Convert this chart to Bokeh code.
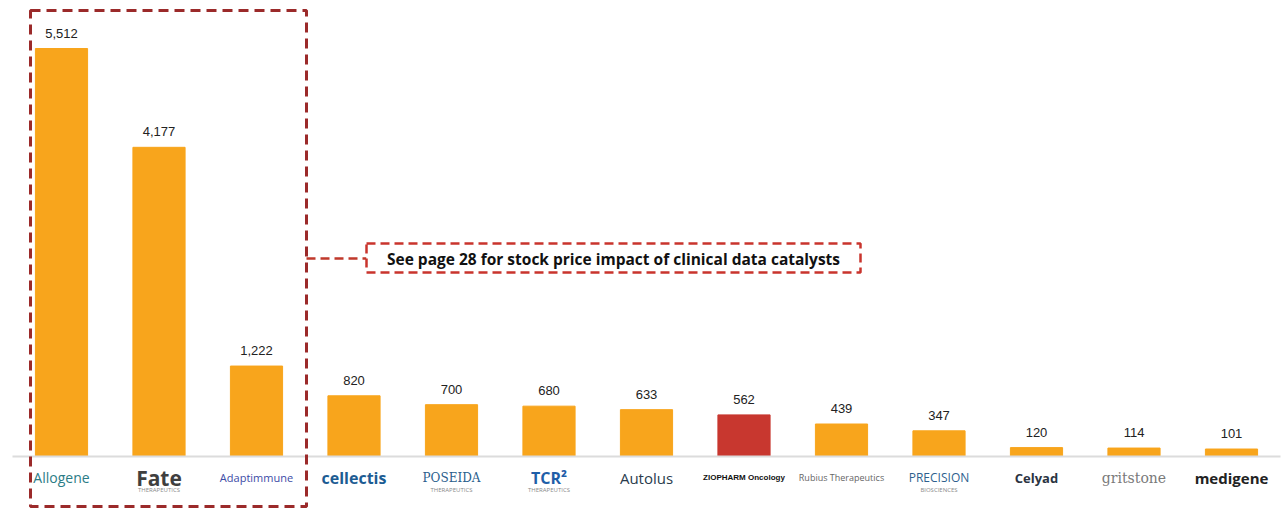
from bokeh.plotting import figure
from bokeh.models import ColumnDataSource, Span
from bokeh.core.properties import value
from bokeh.embed import file_html
from bokeh.resources import INLINE

companies = ["Allogene", "Fate", "Adaptimmune", "cellectis", "POSEIDA", "TCR²", "Autolus",
             "ZIOPHARM Oncology", "Rubius Therapeutics", "PRECISION", "Celyad", "gritstone", "medigene"]
subtitles = ["", "THERAPEUTICS", "", "", "THERAPEUTICS", "THERAPEUTICS", "",
             "", "", "BIOSCIENCES", "", "", ""]
values = [5512, 4177, 1222, 820, 700, 680, 633, 562, 439, 347, 120, 114, 101]
highlight = "ZIOPHARM Oncology"
callout_text = "See page 28 for stock price impact of clinical data catalysts"

# styles for the logo-like labels
logo_colors = ["#2B7C86", "#3F3F3F", "#3C4BA6", "#1C5C93", "#2A5E8C", "#1F5EA8", "#2A3B4C",
               "#111111", "#666666", "#2E5F8E", "#2B3442", "#7A7A7A", "#222222"]
logo_sizes = ["14px", "21px", "11px", "16px", "12px", "16px", "15px",
              "8px", "9px", "12px", "13px", "14px", "15px"]
logo_styles = ["normal", "bold", "normal", "bold", "normal", "bold", "normal",
               "bold", "normal", "normal", "bold", "normal", "bold"]
logo_fonts = ["Open Sans", "Open Sans", "Open Sans", "Open Sans", "DejaVu Serif", "Open Sans", "Open Sans",
              "Liberation Sans", "Open Sans", "Open Sans", "Open Sans", "DejaVu Serif", "Open Sans"]

x = list(range(len(values)))
colors = ["#C8372F" if c == highlight else "#F8A51C" for c in companies]
labels = [f"{v:,}" for v in values]

W, H = 1282, 509
px_per_x = 97.5
x0_px = 61.0
base_px = 456.0
units_per_px = 13.51

xs = -x0_px / px_per_x
xe = xs + W / px_per_x
ye = base_px * units_per_px
ys = -(H - base_px) * units_per_px

def X(px):
    return (px - x0_px) / px_per_x

def Y(py):
    return (base_px - py) * units_per_px

p = figure(width=W, height=H, x_range=(xs, xe), y_range=(ys, ye),
           output_backend="svg", toolbar_location=None,
           min_border=0, min_border_left=0, min_border_right=0,
           min_border_top=0, min_border_bottom=0)
p.axis.visible = False
p.grid.visible = False
p.outline_line_color = None
p.background_fill_color = "white"

src = ColumnDataSource(dict(x=x, top=values, color=colors, label=labels,
                            name=companies, sub=subtitles,
                            lc=logo_colors, ls=logo_sizes, lst=logo_styles, lf=logo_fonts))

p.vbar(x="x", top="top", bottom=0, width=0.535, color="color", source=src)

p.segment(x0=[X(12)], y0=[0], x1=[X(1280)], y1=[0], line_color="#DCDCDC", line_width=2)

p.text(x="x", y="top", text="label", source=src, text_align="center",
       text_baseline="bottom", y_offset=-11, text_font=value("Liberation Sans"),
       text_font_size="13px", text_color="#222222")

# logo-like company names
p.text(x="x", y=Y(477), text="name", source=src, text_align="center",
       text_baseline="middle", text_font="lf", text_font_size="ls",
       text_font_style="lst", text_color="lc")
p.text(x="x", y=Y(489), text="sub", source=src, text_align="center",
       text_baseline="middle", text_font=value("Open Sans"), text_font_size="6px",
       text_color="#8A8A8A")

# highlight box around first three bars
p.quad(left=X(30), right=X(306), top=Y(10), bottom=Y(506), fill_alpha=0,
       line_color="#9B2A2A", line_width=3, line_dash="10 6")
# connector
p.segment(x0=X(306), y0=Y(258), x1=X(366), y1=Y(258), line_color="#C0392B",
          line_width=2.5, line_dash="9 5")
# callout box
p.quad(left=X(366), right=X(860), top=Y(243), bottom=Y(272), fill_color="white",
       line_color="#C9342D", line_width=2.5, line_dash="9 5")
p.text(x=[X(613)], y=[Y(258)], text=[callout_text], text_align="center",
       text_baseline="middle", text_font=value("Open Sans"), text_font_style="bold",
       text_font_size="15.5px", text_color="#111111")

open("out.html", "w").write(file_html(p, INLINE))
